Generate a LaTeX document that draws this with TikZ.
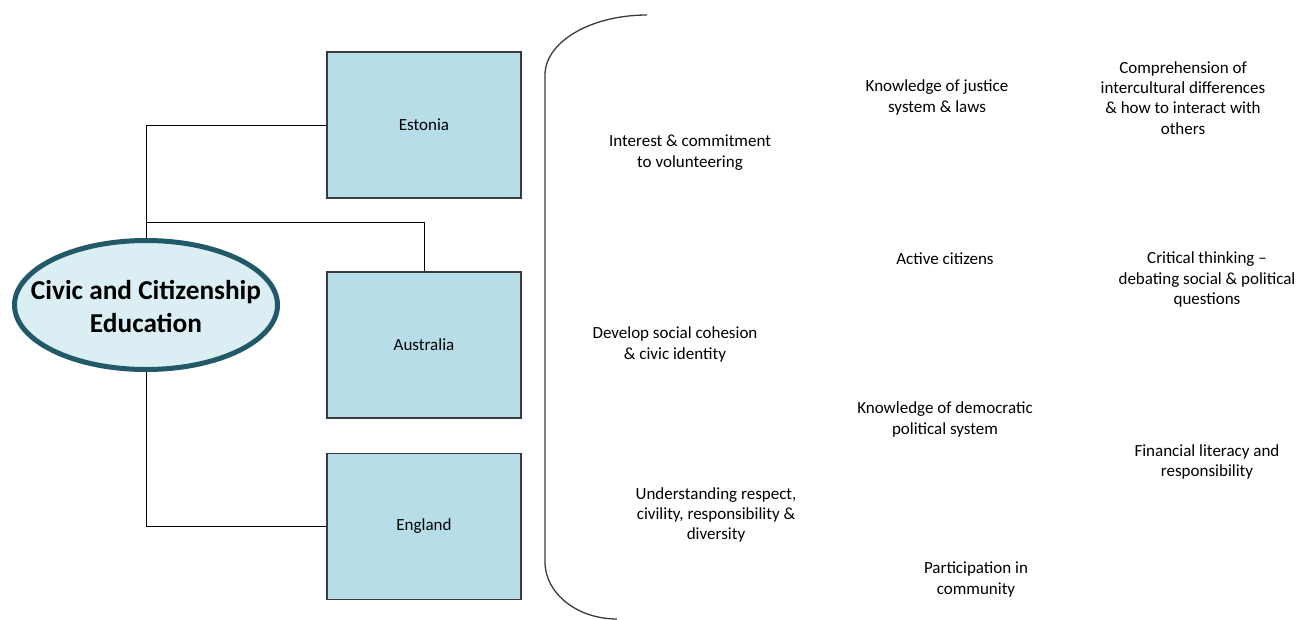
\documentclass[tikz,border=0pt]{standalone}
\usepackage{fontspec}
\setmainfont{Carlito}
\usetikzlibrary{shapes.geometric}
\definecolor{boxfill}{HTML}{B7DEE8}
\definecolor{ellfill}{HTML}{DAEEF3}
\definecolor{elldraw}{HTML}{215968}
\definecolor{edgegray}{HTML}{3A3A3A}
\tikzset{
  country/.style={draw=edgegray, line width=1.3pt, fill=boxfill, minimum width=194pt, minimum height=146pt, inner sep=0pt, font=\fontsize{17}{20}\selectfont},
  root/.style={ellipse, draw=elldraw, line width=5pt, fill=ellfill, minimum width=263pt, minimum height=129pt, inner sep=0pt},
  roottext/.style={align=center, inner sep=0pt, font=\fontsize{27.3}{33}\selectfont\bfseries},
  goal/.style={align=center, inner sep=0pt, font=\fontsize{17}{20.3}\selectfont},
  link/.style={draw=black, line width=1pt},
  brace/.style={draw=edgegray, line width=1.3pt}
}
\begin{document}
\begin{tikzpicture}[x=1pt, y=-1pt]
\useasboundingbox (0,0) rectangle (1296,619);
% root and countries
\node[root] (ell) at (146,305) {};
\node[roottext] (elltext) at (146,306.5) {Civic and Citizenship\\Education};
\node[country] (est) at (424,125) {Estonia};
\node[country] (aus) at (424,345) {Australia};
\node[country] (eng) at (424,526.5) {England};
\coordinate (j) at (146,222);
% connectors
\draw[link] (ell.north) |- (est.west);
\draw[link] (j) -| (aus.north);
\draw[link] (ell.south) |- (eng.west);
% bracket
\draw[brace] (647,15) .. controls (590.7,15) and (545,41.9) .. (545,75)
  -- (545,562) .. controls (545,593.5) and (577.3,619) .. (617,619);
% goals
\node[goal] (g1) at (690,152.5) {Interest \& commitment\\to volunteering};
\node[goal] (g2) at (675,344.5) {Develop social cohesion\\\& civic identity};
\node[goal] (g3) at (716,515) {Understanding respect,\\civility, responsibility \&\\diversity};
\node[goal] (g4) at (937,97.5) {Knowledge of justice\\system \& laws};
\node[goal] (g5) at (945,259) {Active citizens};
\node[goal] (g6) at (945,419.5) {Knowledge of democratic\\political system};
\node[goal] (g7) at (976,579.5) {Participation in\\community};
\node[goal] (g8) at (1183,98) {Comprehension of\\intercultural differences\\\& how to interact with\\others};
\node[goal] (g9) at (1207,279.5) {Critical thinking --\\debating social \& political\\questions};
\node[goal] (g10) at (1207,462) {Financial literacy and\\responsibility};
\end{tikzpicture}
\end{document}
